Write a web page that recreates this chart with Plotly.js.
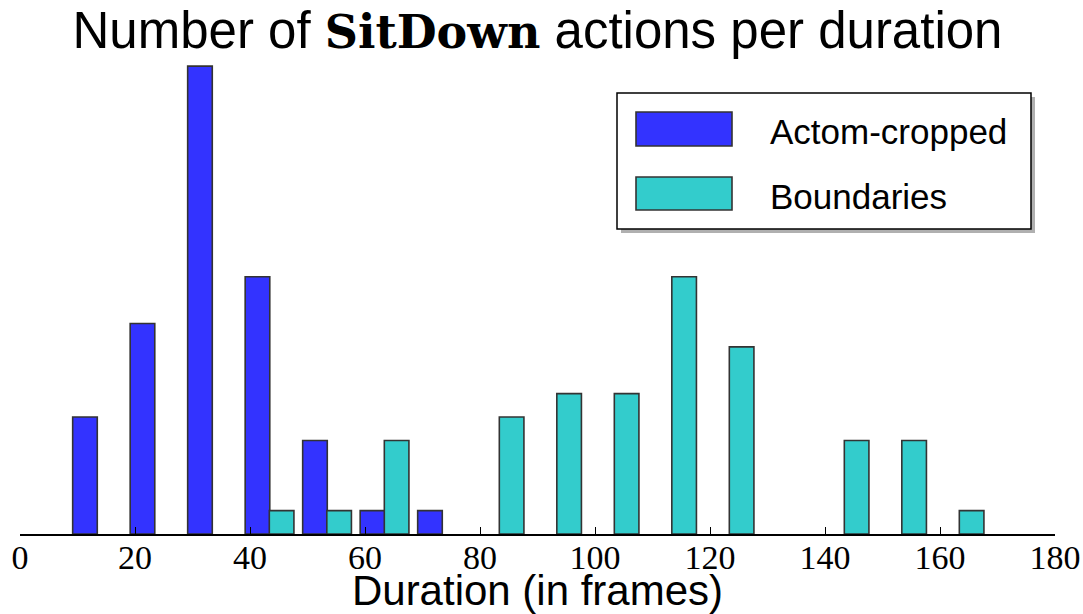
<!DOCTYPE html>
<html>
<head>
<meta charset="utf-8">
<script src="https://cdn.plot.ly/plotly-3.0.1.min.js"></script>
<style>html,body{margin:0;padding:0;background:#fff;}#chart{width:1083px;height:614px;}</style>
</head>
<body>
<div id="chart"></div>
<script>
// Data
const binCentersActom = [11.3, 21.3, 31.3, 41.3, 51.3, 61.3, 71.3];
const countsActom = [5, 9, 20, 11, 4, 1, 1];
const binCentersBoundaries = [45.5, 55.5, 65.5, 85.5, 95.5, 105.5, 115.5, 125.5, 145.5, 155.5, 165.5];
const countsBoundaries = [1, 1, 4, 5, 6, 6, 11, 8, 4, 4, 1];
const seriesNames = ['Actom-cropped', 'Boundaries'];
const xTickVals = [0, 20, 40, 60, 80, 100, 120, 140, 160, 180];

const colors = ['#3333ff', '#33cccc'];
const edge = {color: '#333333', width: 1.6};
const barW = 4.28;

const traces = [
  {type: 'bar', name: seriesNames[0], x: binCentersActom, y: countsActom, width: barW,
   marker: {color: colors[0], line: edge}, showlegend: false, hoverinfo: 'x+y'},
  {type: 'bar', name: seriesNames[1], x: binCentersBoundaries, y: countsBoundaries, width: barW,
   marker: {color: colors[1], line: edge}, showlegend: false, hoverinfo: 'x+y'}
];

// plot area in pixels
const L = 20, R = 1055, T = 65, B = 534;
const px = x => (x - L) / (R - L);
const py = y => (B - y) / (B - T);

const shapes = [
  {type: 'rect', xref: 'paper', yref: 'paper', x0: px(621), x1: px(1035), y0: py(97), y1: py(233),
   fillcolor: '#b0b0b0', line: {width: 0}, layer: 'above'},
  {type: 'rect', xref: 'paper', yref: 'paper', x0: px(617), x1: px(1031), y0: py(93), y1: py(229),
   fillcolor: '#ffffff', line: {color: '#000000', width: 1.5}, layer: 'above'},
  {type: 'rect', xref: 'paper', yref: 'paper', x0: px(636), x1: px(732), y0: py(112), y1: py(146),
   fillcolor: colors[0], line: edge, layer: 'above'},
  {type: 'rect', xref: 'paper', yref: 'paper', x0: px(636), x1: px(732), y0: py(177), y1: py(210),
   fillcolor: colors[1], line: edge, layer: 'above'}
];

const annotations = [
  {xref: 'paper', yref: 'paper', x: px(768), y: py(131), xanchor: 'left', yanchor: 'middle',
   text: seriesNames[0], showarrow: false, font: {family: 'Liberation Sans, Arial, sans-serif', size: 35, color: '#000'}},
  {xref: 'paper', yref: 'paper', x: px(768), y: py(196), xanchor: 'left', yanchor: 'middle',
   text: seriesNames[1], showarrow: false, font: {family: 'Liberation Sans, Arial, sans-serif', size: 35, color: '#000'}}
];

const layout = {
  width: 1083, height: 614,
  margin: {l: L, r: 1083 - R, t: T, b: 614 - B, pad: 0},
  paper_bgcolor: '#ffffff', plot_bgcolor: '#ffffff',
  barmode: 'overlay',
  showlegend: false,
  title: {
    text: 'Number of <span style="font-family:\'DejaVu Serif\';font-weight:bold;font-size:46px">SitDown</span> actions per duration',
    font: {family: 'Liberation Sans, Arial, sans-serif', size: 51, color: '#000'},
    x: 0.5, xref: 'paper', xanchor: 'center',
    y: 1 - 30 / 614, yref: 'container', yanchor: 'middle'
  },
  xaxis: {
    range: [0, 180], tickvals: xTickVals, ticktext: xTickVals.map(String),
    ticks: 'inside', ticklen: 7, tickwidth: 1, tickcolor: '#000',
    showline: true, linecolor: '#000', linewidth: 2,
    showgrid: false, zeroline: false, mirror: false,
    tickfont: {family: 'Liberation Serif, Times New Roman, serif', size: 34, color: '#000'},
    ticklabelstandoff: -8,
    title: {text: 'Duration (in frames)', standoff: 13,
            font: {family: 'Liberation Sans, Arial, sans-serif', size: 42, color: '#000'}},
    automargin: false,
    fixedrange: true
  },
  yaxis: {
    range: [0, 20.05], visible: false, showgrid: false, zeroline: false, fixedrange: true
  },
  shapes: shapes,
  annotations: annotations
};

Plotly.newPlot('chart', traces, layout, {displayModeBar: false, staticPlot: true});
</script>
</body>
</html>
